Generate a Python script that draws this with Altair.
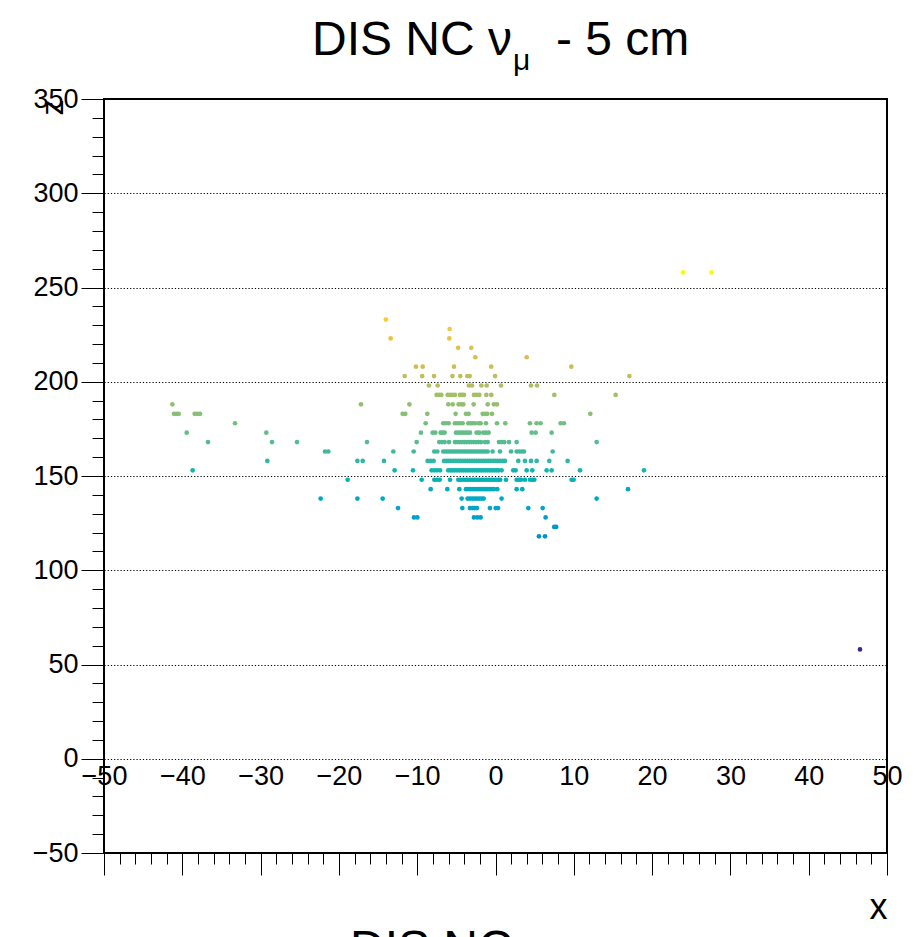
import altair as alt
import pandas as pd

# ---- data: x positions (cm) of events, grouped by z layer (cm) ----
x_z58 = [46.55]
x_z118 = [5.55, 6.32]
x_z123 = [7.5, 7.75]
x_z128 = [-10.41, -9.99, -2.75, -2.32, -1.9, 6.4]
x_z133 = [-12.45, -4.24, -3.26, -2.96, -2.66, -2.37, -0.71, 0.02, 0.32, 4.19, 6.02]
x_z138 = [-22.33, -17.64, -14.41, -4.32, -3.56, -3.26, -2.96, -2.66, -2.37, -2.07,
          -1.77, -1.51, 0.78, 12.92]
x_z143 = [-8.28, -6.15, -4.62, -3.77, -3.47, -3.17, -2.88, -2.58, -2.28, -1.98,
          -1.68, -1.39, -1.09, -0.79, -0.49, -0.2, 0.23, 2.7, 3.42, 16.92]
x_z148 = [-18.88, -9.43, -7.81, -7.47, -7.13, -5.81, -4.75, -4.45, -4.15, -3.85,
          -3.55, -3.25, -2.95, -2.65, -2.35, -2.05, -1.75, -1.45, -1.15, -0.85,
          -0.55, -0.25, 0.05, 0.35, 0.6, 1.34, 2.7, 3.0, 3.25, 3.76, 4.4, 4.7,
          4.96, 9.72, 9.98]
x_z153 = [-38.68, -12.88, -10.54, -8.16, -7.81, -7.47, -7.09, -6.03, -5.75, -5.47,
          -5.2, -4.92, -4.64, -4.36, -4.08, -3.8, -3.52, -3.24, -2.96, -2.68, -2.4,
          -2.12, -1.84, -1.56, -1.28, -1.0, -0.72, -0.44, -0.16, 0.12, 0.4, 0.78,
          2.27, 2.57, 3.98, 4.7, 6.53, 7.17, 10.79, 18.96]
x_z158 = [-29.14, -17.64, -16.96, -14.24, -8.67, -8.28, -7.9, -6.58, -6.28, -5.98,
          -5.69, -5.39, -5.09, -4.79, -4.49, -4.2, -3.9, -3.6, -3.3, -3.0, -2.71,
          -2.41, -2.11, -1.81, -1.51, -1.22, -0.92, -0.62, -0.32, -0.02, 0.27, 0.57,
          0.91, 1.21, 2.91, 3.76, 4.53, 5.25, 6.87, 9.21]
x_z163 = [-21.77, -21.35, -13.05, -10.45, -7.82, -7.43, -6.67, -6.37, -6.07, -5.77,
          -5.47, -5.18, -4.88, -4.58, -4.28, -3.98, -3.69, -3.39, -3.09, -2.79,
          -2.49, -2.2, -1.9, -1.6, -1.3, -1.0, -0.37, 0.57, 1.98, 2.7, 3.04, 3.38,
          3.64, 7.3]
x_z168 = [-36.72, -28.54, -25.35, -16.41, -10.07, -7.18, -6.84, -6.5, -5.94, -5.18,
          -4.88, -4.58, -4.28, -3.98, -3.69, -3.39, -3.09, -2.79, -2.49, -2.2,
          -1.86, -1.34, -1.0, 0.44, 0.78, 1.12, 1.72, 2.7, 12.92]
x_z173 = [-39.44, -29.27, -9.52, -8.03, -7.69, -7.01, -6.75, -6.5, -5.05, -4.75,
          -4.45, -4.15, -3.86, -3.56, -3.26, -2.41, -2.07, -1.56, -1.22, -0.88,
          4.62, 5.13, 7.17]
x_z178 = [-33.27, -8.92, -6.67, -6.33, -5.98, -5.18, -4.88, -4.54, -4.2, -3.47,
          -3.17, -2.92, -2.62, -2.15, -1.9, -1.22, 0.19, 1.25, 4.4, 5.25, 5.76,
          8.32, 8.74]
x_z183 = [-41.06, -40.76, -40.46, -38.42, -38.08, -37.74, -11.86, -11.52, -8.71,
          -5.09, -3.77, -3.43, -1.64, -1.3, -1.05, -0.45, 12.11]
x_z188 = [-41.27, -17.18, -11.0, -6.03, -5.47, -4.71, -4.37, -4.11, -2.79, -1.0,
          -0.2, 0.19]
x_z193 = [-7.52, -7.22, -6.92, -6.11, -5.81, -5.52, -5.18, -4.54, -4.28, -4.03,
          -2.75, -2.41, -2.07, -1.17, -0.54, 7.51, 15.34]
x_z198 = [-8.5, -7.39, -3.4, -3.0, -1.81, -1.13, 0.7, 4.53, 5.3]
x_z203 = [-11.6, -9.37, -7.85, -5.5, -4.5, -3.6, -3.3, -0.06, 17.1]
x_z208 = [-10.16, -9.3, -5.3, -0.55, 9.68]
x_z213 = [-2.58, 3.98]
x_z218 = [-4.77, -3.09]
x_z223 = [-13.39, -5.9]
x_z228 = [-5.86]
x_z233 = [-14.0]
x_z258 = [23.95, 27.57]

layers = {
    58: x_z58, 118: x_z118, 123: x_z123, 128: x_z128, 133: x_z133, 138: x_z138,
    143: x_z143, 148: x_z148, 153: x_z153, 158: x_z158, 163: x_z163, 168: x_z168,
    173: x_z173, 178: x_z178, 183: x_z183, 188: x_z188, 193: x_z193, 198: x_z198,
    203: x_z203, 208: x_z208, 213: x_z213, 218: x_z218, 223: x_z223, 228: x_z228,
    233: x_z233, 258: x_z258,
}

# axis ticks
x_major = [-50, -40, -30, -20, -10, 0, 10, 20, 30, 40, 50]
x_minor = list(range(-50, 51, 2))
y_major = [-50, 0, 50, 100, 150, 200, 250, 300, 350]
y_minor = list(range(-50, 351, 10))

# colour palette (ROOT kBird) mapped onto z
bird_colors = ["#352a87", "#0f5cdd", "#1481d6", "#06a4ca", "#2eb7a4",
               "#87bf77", "#d1bb59", "#fec832", "#f9fb0e"]
color_stops = [58, 83, 108, 133, 158, 183, 208, 233, 258]

title_main = "DIS NC ν"
title_sub = "μ"
title_tail = "- 5 cm"
bottom_text = "DIS NC"

rows = [{"x": xv, "z": z} for z, xs in layers.items() for xv in xs]
df = pd.DataFrame(rows)

FONT = "Liberation Sans"
W, H = 783, 754

x_scale = alt.Scale(domain=[-50, 50], nice=False, zero=False)
y_scale = alt.Scale(domain=[-50, 350], nice=False, zero=False)

points = alt.Chart(df).mark_circle(size=22, opacity=1).encode(
    x=alt.X("x:Q", scale=x_scale,
            axis=alt.Axis(values=x_major, orient="bottom", tickSize=22,
                          labelPadding=-112, labelFontSize=27, labelFlush=False,
                          labelOverlap=False, grid=False, domain=False,
                          title="x", titleFontSize=36, titleFontWeight="normal",
                          titleX=W, titleY=65, titleAlign="right",
                          titleBaseline="alphabetic", titleAnchor="end")),
    y=alt.Y("z:Q", scale=y_scale,
            axis=alt.Axis(values=y_major, orient="left", tickSize=23,
                          labelPadding=3, labelFontSize=27, labelFlush=False,
                          labelOverlap=False, grid=True, gridColor="black",
                          gridDash=[1.2, 2.0], gridWidth=1, domain=False,
                          title="z", titleFontSize=32, titleFontWeight="normal",
                          titleAngle=270, titleX=-42, titleY=0,
                          titleAlign="right", titleBaseline="alphabetic")),
    color=alt.Color("z:Q", scale=alt.Scale(domain=color_stops, range=bird_colors),
                    legend=None),
)

minor = alt.Chart(df).mark_circle(size=1, opacity=0).encode(
    x=alt.X("x:Q", scale=x_scale,
            axis=alt.Axis(values=x_minor, orient="bottom", tickSize=11,
                          labels=False, grid=False, domain=False, title="")),
    y=alt.Y("z:Q", scale=y_scale,
            axis=alt.Axis(values=y_minor, orient="left", tickSize=12,
                          labels=False, grid=False, domain=False, title="")),
)

one = alt.Data(values=[{}])
t_main = alt.Chart(one).mark_text(align="left", baseline="alphabetic", font=FONT,
                                  fontSize=48, color="black").encode(
    x=alt.value(208), y=alt.value(-44), text=alt.value(title_main))
t_sub = alt.Chart(one).mark_text(align="left", baseline="alphabetic", font=FONT,
                                 fontSize=30, color="black").encode(
    x=alt.value(409), y=alt.value(-29), text=alt.value(title_sub))
t_tail = alt.Chart(one).mark_text(align="left", baseline="alphabetic", font=FONT,
                                  fontSize=48, color="black").encode(
    x=alt.value(452), y=alt.value(-44), text=alt.value(title_tail))
t_bottom = alt.Chart(one).mark_text(align="left", baseline="top", font=FONT,
                                    fontSize=48, color="black").encode(
    x=alt.value(246), y=alt.value(827), text=alt.value(bottom_text))

chart = alt.layer(points, minor, t_main, t_sub, t_tail, t_bottom).resolve_axis(
    x="independent", y="independent"
).properties(
    width=W, height=H,
    autosize=alt.AutoSizeParams(type="none"),
    padding={"left": 104, "top": 99, "right": 36, "bottom": 84},
).configure_view(
    stroke="black", strokeWidth=2
).configure_axis(
    labelFont=FONT, titleFont=FONT, labelColor="black", titleColor="black",
    tickColor="black", tickWidth=1
)

chart.save("out.html", embed_options={"renderer": "svg", "actions": False})
